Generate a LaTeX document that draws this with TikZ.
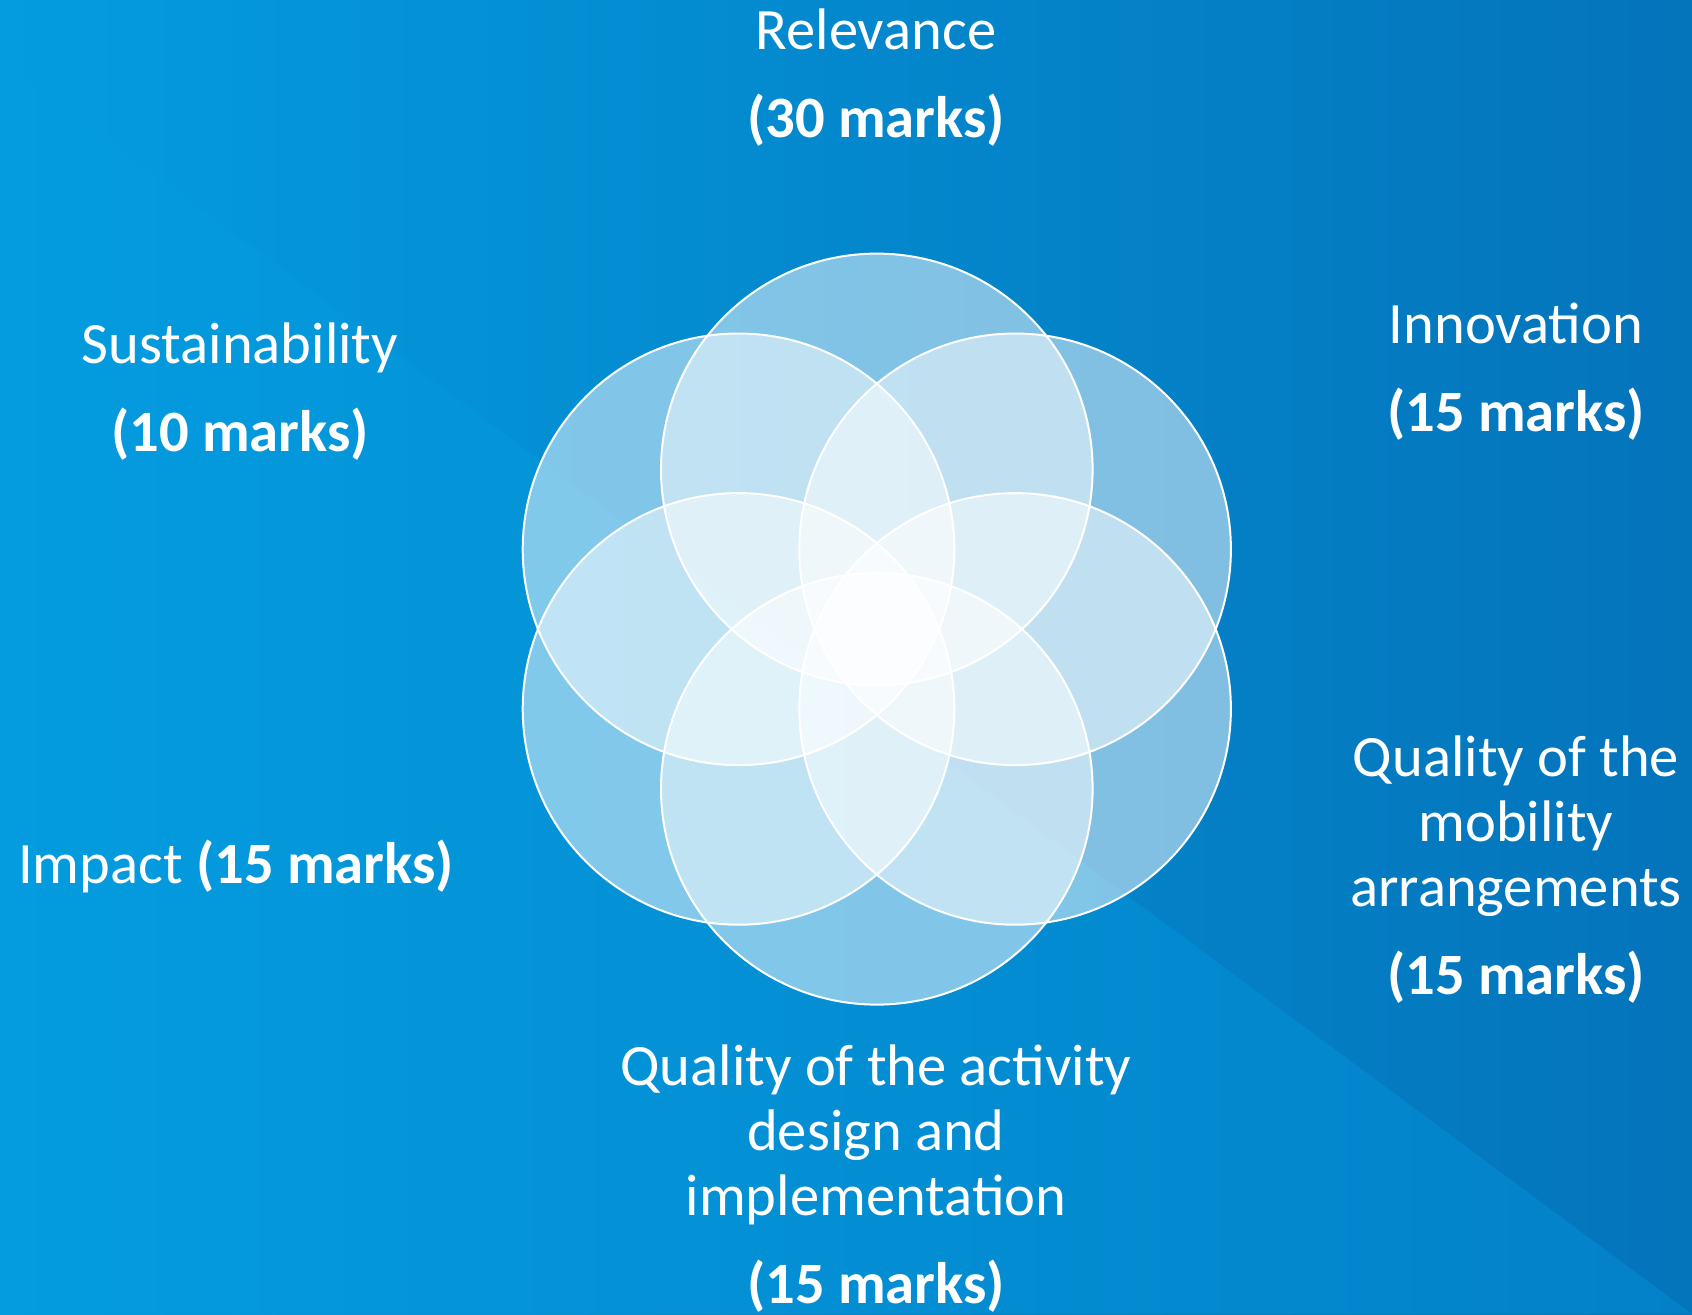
\documentclass[tikz,border=0pt]{standalone}
\usepackage{fontspec}
\setmainfont{Carlito}
\definecolor{bgLeft}{HTML}{049CDF}
\definecolor{bgRight}{HTML}{0474BB}
\definecolor{bgMid}{HTML}{0381C8}
\tikzset{
  petalAll/.style={circle, draw=white, line width=1pt, fill=white, fill opacity=0.5, draw opacity=1, minimum size=215.8pt, inner sep=0pt, outer sep=0pt},
  labelAll/.style={text=white, align=center, anchor=base, inner sep=0pt, font=\fontsize{29.3}{32.5}\selectfont}
}

\begin{document}
\begin{tikzpicture}[x=0.5pt, y=-0.5pt]
  \useasboundingbox (0,0) rectangle (1692,1314);
  % background
  \shade[left color=bgLeft, right color=bgRight] (0,0) rectangle (1692,1314);
  \shade[left color=bgLeft, right color=bgMid] (0,60) -- (1692,1314) -- (0,1314) -- cycle;

  % petals
  \node[petalAll] (PT-top) at (876.8,469.4) {};
  \node[petalAll] (PT-ur) at (1015.1,549.3) {};
  \node[petalAll] (PT-lr) at (1015.1,708.9) {};
  \node[petalAll] (PT-bot) at (876.8,788.8) {};
  \node[petalAll] (PT-ll) at (738.5,708.9) {};
  \node[petalAll] (PT-ul) at (738.5,549.3) {};

  % labels (placed at the baseline of their last line)
  \node[labelAll] (relevance) at (876,137) {Relevance\\[11.5pt]\textbf{(30 marks)}};
  \node[labelAll] (innovation) at (1516,431) {Innovation\\[11.5pt]\textbf{(15 marks)}};
  \node[labelAll] (sustain) at (240,451) {Sustainability\\[11.5pt]\textbf{(10 marks)}};
  \node[labelAll] (impact) at (236,883) {Impact \textbf{(15 marks)}};
  \node[labelAll] (mobility) at (1516,994) {Quality of the\\mobility\\arrangements\\[11.5pt]\textbf{(15 marks)}};
  \node[labelAll] (activity) at (876,1303) {Quality of the activity\\design and\\implementation\\[11.5pt]\textbf{(15 marks)}};
\end{tikzpicture}
\end{document}
